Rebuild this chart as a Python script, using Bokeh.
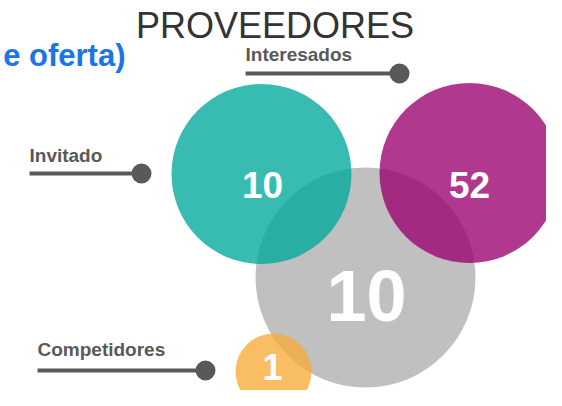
from bokeh.plotting import figure
from bokeh.models import Range1d, ColumnDataSource
from bokeh.core.properties import value
from bokeh.embed import file_html
from bokeh.resources import INLINE

# ---- data ----
categories = ["Proveedores", "Invitado", "Interesados", "Competidores"]
values = [10, 10, 52, 1]
title_text = "PROVEEDORES"
subtitle_text = "e oferta)"

# ---- layout / style (pixel coordinates) ----
cx = [365, 261, 469, 273]
cy = [277, 173.5, 172.5, 371]
rad = [110, 90, 90, 38]
fills = ["#C0C0C0", "#00A89B", "#9A006F", "#F7AA37"]
alphas = [1.0, 0.78, 0.78, 0.78]
num_x = [366, 262, 469, 272]
num_y = [295, 184, 184, 366]
num_size = ["72px", "37px", "37px", "36px"]

lead_names = ["Invitado", "Interesados", "Competidores"]
lead_x0 = [29, 245, 37]
lead_x1 = [141, 399, 205]
lead_y = [173, 73, 370]
lead_text_y = [155, 54, 349]

FONT = value("Liberation Sans")

W, H = 546, 390
p = figure(width=W, height=H, output_backend="svg", toolbar_location=None,
           x_range=Range1d(0, W), y_range=Range1d(H, 0),
           min_border=0, outline_line_color=None)
p.axis.visible = False
p.grid.visible = False
p.background_fill_color = "white"
p.border_fill_color = "white"

src = ColumnDataSource(dict(x=cx, y=cy, r=rad, fill=fills, a=alphas,
                            nx=num_x, ny=num_y, ns=num_size,
                            lab=[str(v) for v in values], cat=categories))
p.circle(x="x", y="y", radius="r", fill_color="fill", fill_alpha="a",
         line_color=None, source=src)
p.text(x="nx", y="ny", text="lab", text_font_size="ns", text_font=FONT,
       text_font_style="bold", text_color="white", text_align="center",
       text_baseline="alphabetic", source=src)

lsrc = ColumnDataSource(dict(x0=lead_x0, x1=lead_x1, y=lead_y, ty=lead_text_y,
                             name=lead_names))
p.segment(x0="x0", y0="y", x1="x1", y1="y", line_color="#595959",
          line_width=4, source=lsrc)
p.scatter(x="x1", y="y", size=20, fill_color="#595959", line_color=None,
          source=lsrc)
p.text(x="x0", y="ty", text="name", text_font_size="19px", text_font=FONT,
       text_font_style="bold", text_color="#595959", text_align="left",
       text_baseline="alphabetic", source=lsrc)

p.text(x=[274.5], y=[25], text=[title_text], text_font_size="36px",
       text_font=FONT, text_color="#333333", text_align="center",
       text_baseline="alphabetic")
p.text(x=[125], y=[55], text=[subtitle_text], text_font_size="31px",
       text_font=FONT, text_font_style="bold", text_color="#1A75E8",
       text_align="right", text_baseline="alphabetic")

open("out.html", "w").write(file_html(p, INLINE))
